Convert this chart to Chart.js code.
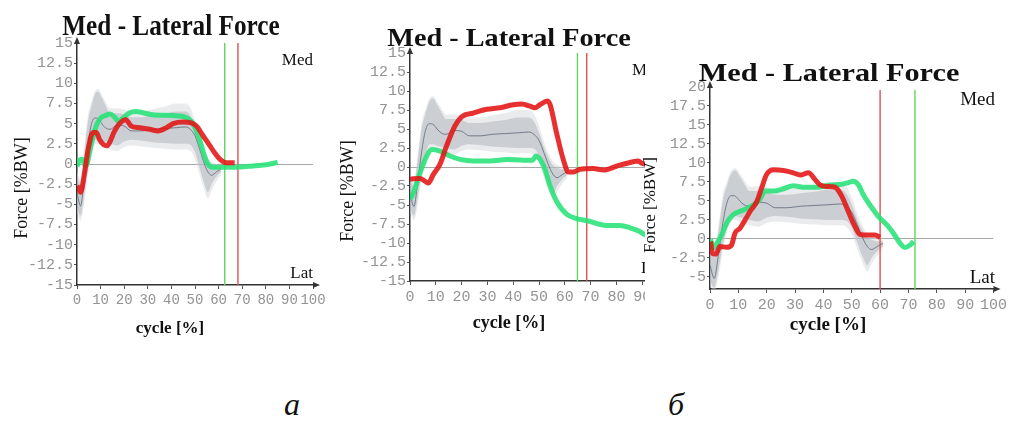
<!DOCTYPE html>
<html>
<head>
<meta charset="utf-8">
<script src="https://cdn.jsdelivr.net/npm/chart.js@4.4.1/dist/chart.umd.min.js"></script>
<style>
  body { margin: 0; background: #fff; width: 1010px; height: 425px; position: relative; overflow: hidden; }
  .panel { position: absolute; top: 0; }
  .letter { position: absolute; font-family: "Liberation Serif", serif; font-style: italic; font-size: 32px; line-height: 32px; color: #111; }
</style>
</head>
<body>
<div class="panel" style="left:0"><canvas id="chartA" width="330" height="345"></canvas></div>
<div class="panel" style="left:335px;width:310px;height:345px;overflow:hidden"><canvas id="chartB" width="350" height="345"></canvas></div>
<div class="panel" style="left:640px"><canvas id="chartC" width="370" height="350"></canvas></div>
<div class="letter" style="left:284px;top:388px">а</div>
<div class="letter" style="left:668px;top:388px">б</div>

<script>
const chartTitle = 'Med - Lateral Force';
const yLabel = 'Force [%BW]';
const xLabel = 'cycle [%]';
const medLabel = 'Med';
const latLabel = 'Lat';

// normal corridor (mean +- sd), the same reference in all three plots
const normX = [0, 1.5, 3, 4.5, 6, 7.5, 9, 10.5, 12, 14, 17, 20, 23, 27, 32, 37, 42, 46, 48, 50, 52, 54, 55.5, 57, 59, 61];
const normMean = [-3.5, -5.2, -2.0, 2.0, 4.8, 5.7, 5.6, 5.0, 4.5, 4.3, 4.8, 4.7, 4.1, 4.1, 4.3, 4.4, 4.5, 4.6, 4.3, 3.5, 1.8, 0.0, -1.0, -1.4, -1.0, -0.6];
const normUpper = [-1.5, -2.5, 1.0, 5.0, 7.0, 8.6, 9.0, 8.2, 7.3, 6.3, 6.3, 6.2, 5.8, 5.8, 6.0, 6.2, 6.5, 6.5, 6.0, 4.5, 2.5, 1.0, 0.2, -0.1, -0.3, -0.3];
const normLower = [-5.5, -6.4, -4.0, -0.8, 1.5, 3.0, 3.0, 2.8, 2.7, 2.5, 2.3, 2.8, 3.0, 2.9, 2.7, 2.6, 2.5, 2.5, 2.4, 1.5, -0.5, -2.5, -3.5, -2.5, -1.6, -1.0];
const normOuterUpper = [-1.0, -2.0, 1.8, 5.8, 7.6, 9.0, 9.3, 8.6, 7.8, 6.9, 6.9, 6.8, 6.5, 6.5, 6.8, 7.1, 7.5, 7.5, 7.0, 5.4, 3.3, 1.6, 0.7, 0.3, 0.0, -0.1];
const normOuterLower = [-6.0, -7.0, -5.0, -1.6, 0.8, 2.4, 2.5, 2.2, 2.0, 1.8, 1.6, 2.1, 2.3, 2.2, 2.0, 1.9, 1.8, 1.8, 1.6, 0.6, -1.4, -3.3, -4.3, -3.3, -2.2, -1.4];

// panel a
const redAX = [0, 1.5, 3.2, 4.7, 6.8, 8.2, 9.6, 11.2, 12.8, 14.2, 15.8, 18, 20.6, 23, 26.6, 30.8, 34.3, 37.9, 40.7, 45, 48.4, 50.6, 53.4, 56, 58.3, 60.5, 63.3, 66.8];
const redAY = [-2.7, -3.5, -1.1, 1.8, 3.9, 3.9, 3.0, 2.4, 2.25, 2.9, 4.0, 5.0, 5.5, 4.7, 4.5, 4.3, 4.1, 4.5, 5.0, 5.2, 5.1, 4.7, 3.5, 2.4, 1.4, 0.6, 0.15, 0.15];
const greenAX = [0, 1.2, 2.3, 3.7, 4.5, 6, 8, 10, 12, 14, 16, 17.5, 19.5, 22, 25, 32, 40.7, 46, 49, 52, 54, 55.5, 57.6, 62, 66, 74.6, 80, 85];
const greenAY = [-0.3, 0.5, 0.6, -0.35, 0.3, 2.4, 4.6, 5.7, 6.0, 6.2, 5.8, 5.3, 5.7, 6.3, 6.5, 6.1, 6.0, 5.8, 5.1, 3.0, 1.0, 0.0, -0.4, -0.4, -0.4, -0.25, -0.1, 0.2];
const toeOffA = [62.6, 68.2]; // green, red

// panel b (left part)
const redBX = [0, 3.9, 7.1, 9, 11.6, 14.2, 17.4, 20, 24.5, 29.7, 34.9, 40, 43.3, 46.5, 48.4, 50.4, 53.2, 54.3, 56.8, 59.4, 61.4, 63.3, 65.9, 71, 75, 80, 85.3, 88.5, 89.8, 93];
const redBY = [-1.6, -1.5, -2.1, -1.0, 0.35, 2.8, 5.4, 6.6, 7.1, 7.6, 7.8, 8.2, 8.3, 8.0, 7.8, 8.2, 8.7, 8.2, 4.5, 1.0, -0.65, -0.65, -0.3, -0.2, -0.4, 0.1, 0.6, 0.8, 0.5, 0.3];
const greenBX = [0, 1.3, 3.9, 6.5, 8.4, 11.6, 15.5, 19.4, 24.5, 31, 37.5, 43.9, 47.5, 48.8, 50.4, 52.3, 54.3, 56.8, 60.7, 64.6, 69.1, 73, 76.2, 81.4, 85.3, 88.5, 91, 93];
const greenBY = [-4.25, -3.4, -0.75, 1.45, 2.3, 2.1, 1.45, 1.0, 0.8, 0.8, 1.0, 0.9, 0.9, 1.45, 1.0, -0.3, -2.5, -4.5, -6.2, -6.8, -7.1, -7.5, -7.7, -7.7, -8.0, -8.4, -8.9, -9.2];
const toeOffB = [64.9, 68.5];

// panel b (right part)
const redCX = [0.2, 0.9, 2.1, 3.5, 5.9, 7.6, 8.8, 10.6, 12.4, 14.1, 16.5, 18.2, 20, 22.4, 25.9, 29.4, 31.8, 34.7, 37.1, 38.8, 41.2, 44.1, 46.5, 48.8, 51.2, 52.9, 55.3, 58.2, 60];
const redCY = [-0.35, -1.9, -2.0, -1.0, -1.1, -0.8, 0.75, 1.4, 2.5, 3.6, 4.9, 6.7, 8.5, 9.1, 9.0, 8.7, 8.4, 8.7, 7.8, 7.1, 6.9, 6.8, 5.6, 3.6, 1.6, 0.6, 0.5, 0.5, 0.2];
const greenCX = [0.2, 1.2, 2.4, 4.1, 5.9, 8.2, 11.8, 15.3, 17.6, 19.4, 22.4, 25.9, 29.4, 32.9, 37.6, 42.4, 46.5, 48.8, 50.6, 52.4, 54.1, 57.1, 60, 62.4, 64.7, 67.1, 68.8, 70.6, 71.8];
const greenCY = [-0.1, -1.2, -0.6, 0.5, 2.1, 3.2, 3.8, 4.5, 5.2, 6.3, 6.3, 6.6, 7.0, 6.8, 6.8, 7.1, 7.2, 7.4, 7.6, 7.1, 5.8, 4.1, 2.7, 1.85, 0.75, -0.6, -1.15, -0.8, -0.35];
const toeOffC = [72.3, 60.0];

function pts(xs, ys) {
  return xs.map((x, i) => ({ x: x, y: ys[i] }));
}

// titles, Med/Lat and the arrow heads on the axes
const panelText = {
  id: 'panelText',
  afterDraw(chart, args, opts) {
    const ctx = chart.ctx;
    const a = chart.chartArea;
    ctx.save();
    ctx.fillStyle = '#333';
    ctx.beginPath();
    ctx.moveTo(a.left, a.top - 6);
    ctx.lineTo(a.left - 3, a.top + 1);
    ctx.lineTo(a.left + 3, a.top + 1);
    ctx.fill();
    ctx.beginPath();
    ctx.moveTo(a.right + 7, a.bottom);
    ctx.lineTo(a.right, a.bottom - 3);
    ctx.lineTo(a.right, a.bottom + 3);
    ctx.fill();
    opts.texts.forEach(t => {
      ctx.save();
      ctx.translate(t.x, t.y);
      if (t.rotate) ctx.rotate(-Math.PI / 2);
      ctx.scale(t.sx || 1, 1);
      ctx.font = t.font;
      ctx.fillStyle = '#111';
      ctx.textAlign = t.align || 'center';
      ctx.textBaseline = t.rotate ? 'middle' : 'alphabetic';
      ctx.fillText(t.text, 0, 0);
      ctx.restore();
    });
    ctx.restore();
  }
};

function vline(x, yr, color) {
  return { data: [{ x: x, y: yr[0] }, { x: x, y: yr[1] }], borderColor: color, borderWidth: 1.4 };
}

function makePanel(id, p) {
  const datasets = [
    { data: pts(p.redX, p.redY), borderColor: 'rgba(228,20,20,0.88)', borderWidth: 5 },
    { data: pts(p.greenX, p.greenY), borderColor: 'rgba(38,226,120,0.88)', borderWidth: 5 },
    { data: pts(normX, normMean), borderColor: 'rgba(100,110,125,0.85)', borderWidth: 1 },
    vline(p.toeOff[0], p.vRange, 'rgb(95,215,95)'),
    vline(p.toeOff[1], p.vRange, 'rgb(225,80,80)'),
    { data: pts(normX, normUpper), borderWidth: 0, fill: '+1', backgroundColor: 'rgba(172,178,186,0.5)' },
    { data: pts(normX, normLower), borderWidth: 0 },
    { data: pts(normX, normOuterUpper), borderWidth: 0, fill: '+1', backgroundColor: 'rgba(208,211,216,0.45)' },
    { data: pts(normX, normOuterLower), borderWidth: 0 }
  ];
  const xFont = { family: '"Liberation Mono", monospace', size: p.xTick };
  const yFont = { family: '"Liberation Mono", monospace', size: p.yTick };
  new Chart(document.getElementById(id), {
    type: 'line',
    data: { datasets: datasets },
    plugins: [panelText],
    options: {
      responsive: false,
      animation: false,
      layout: { padding: p.pad },
      elements: {
        point: { radius: 0 },
        line: { cubicInterpolationMode: 'monotone', fill: false }
      },
      plugins: {
        legend: { display: false },
        tooltip: { enabled: false },
        panelText: { texts: p.texts }
      },
      scales: {
        x: {
          type: 'linear',
          min: 0,
          max: 100,
          afterFit: s => { s.height = p.xHeight; },
          ticks: { stepSize: 10, autoSkip: false, maxRotation: 0, color: '#939393', font: xFont, padding: 3 },
          grid: { drawOnChartArea: false, tickLength: 4, tickColor: '#555' },
          border: { color: '#333', width: 1.5 }
        },
        y: {
          min: p.yRange[0],
          max: p.yRange[1],
          afterFit: s => { s.width = p.yWidth; },
          ticks: { stepSize: 2.5, includeBounds: false, autoSkip: false, maxTicksLimit: 30, color: '#939393', font: yFont, padding: 1 },
          grid: {
            color: c => (c.tick && c.tick.value === 0 ? '#a8a8a8' : 'rgba(0,0,0,0)'),
            tickLength: 3,
            tickColor: '#555'
          },
          border: { color: '#333', width: 1.5 }
        }
      }
    }
  });
}

const serif = '"Liberation Serif", "Times New Roman", serif';

makePanel('chartA', {
  redX: redAX, redY: redAY, greenX: greenAX, greenY: greenAY, toeOff: toeOffA,
  yRange: [-15, 15], vRange: [-15, 15],
  yWidth: 77, xHeight: 60, pad: { left: 0, right: 17, top: 43, bottom: 0 }, xTick: 14, yTick: 15,
  texts: [
    { text: chartTitle, x: 171, y: 35, font: 'bold 29px ' + serif, sx: 0.87 },
    { text: yLabel, x: 22, y: 188, font: '18px ' + serif, rotate: true },
    { text: xLabel, x: 170, y: 333, font: 'bold 17px ' + serif },
    { text: medLabel, x: 313, y: 65, font: '17px ' + serif, align: 'right' },
    { text: latLabel, x: 313, y: 278, font: '17px ' + serif, align: 'right' }
  ]
});

makePanel('chartB', {
  redX: redBX, redY: redBY, greenX: greenBX, greenY: greenBY, toeOff: toeOffB,
  yRange: [-15, 15], vRange: [-15, 15],
  yWidth: 75, xHeight: 64, pad: { left: 0, right: 17, top: 53, bottom: 0 }, xTick: 15, yTick: 15,
  texts: [
    { text: chartTitle, x: 174, y: 46, font: 'bold 25px ' + serif, sx: 1.13 },
    { text: yLabel, x: 13, y: 191, font: '18px ' + serif, rotate: true },
    { text: xLabel, x: 174, y: 328, font: 'bold 18px ' + serif },
    { text: medLabel, x: 297, y: 75, font: '17px ' + serif, align: 'left' },
    { text: latLabel, x: 306, y: 273, font: '17px ' + serif, align: 'left' }
  ]
});

makePanel('chartC', {
  redX: redCX, redY: redCY, greenX: greenCX, greenY: greenCY, toeOff: toeOffC,
  yRange: [-6.6, 20], vRange: [-6.6, 19.6],
  yWidth: 70, xHeight: 61, pad: { left: 0, right: 16, top: 87, bottom: 0 }, xTick: 15, yTick: 15,
  texts: [
    { text: chartTitle, x: 189, y: 81, font: 'bold 25px ' + serif, sx: 1.21 },
    { text: yLabel, x: 11, y: 205, font: '17px ' + serif, rotate: true },
    { text: xLabel, x: 188, y: 330, font: 'bold 19px ' + serif },
    { text: medLabel, x: 355, y: 105, font: '19px ' + serif, align: 'right' },
    { text: latLabel, x: 355, y: 283, font: '19px ' + serif, align: 'right' }
  ]
});
</script>
</body>
</html>
